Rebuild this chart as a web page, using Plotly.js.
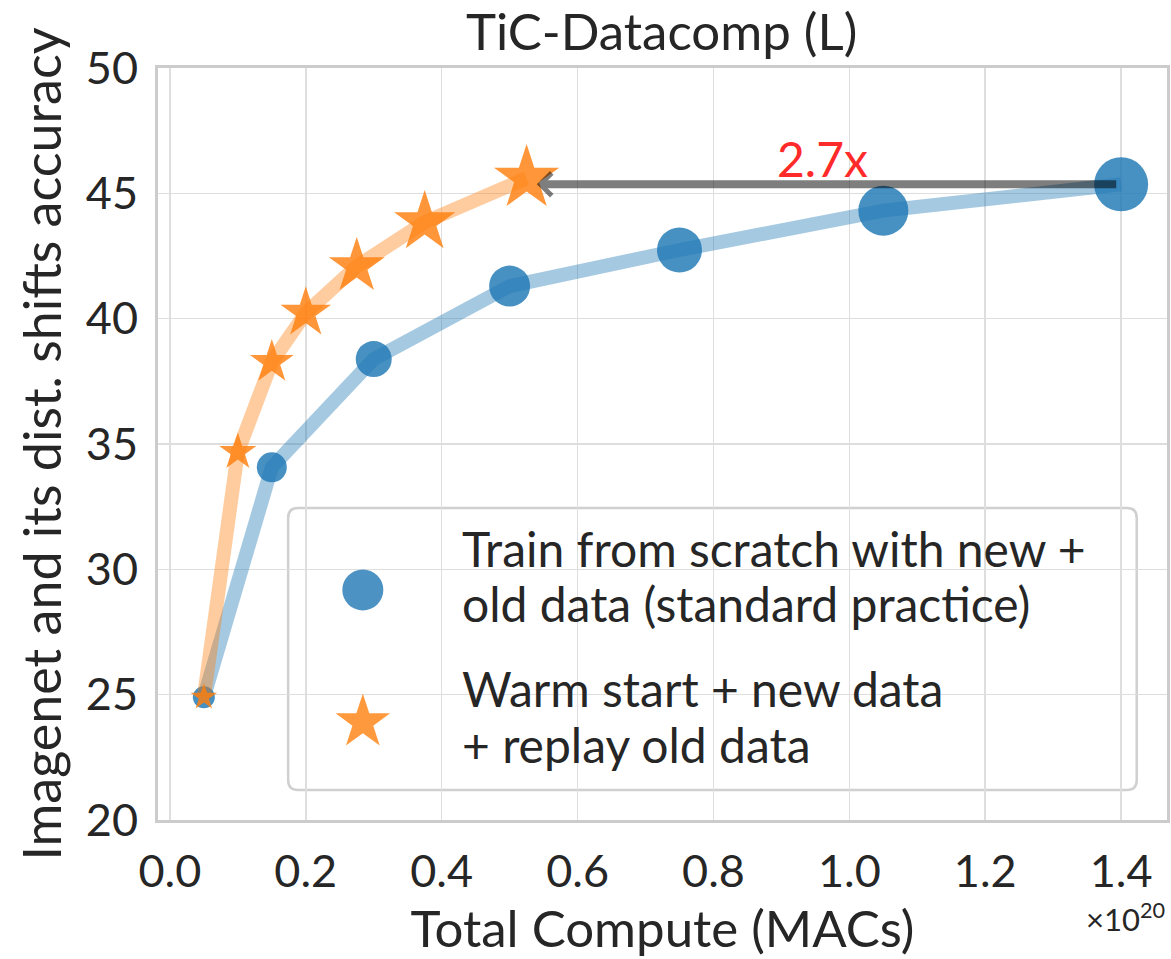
<!DOCTYPE html>
<html>
<head>
<meta charset="utf-8">
<script src="https://cdn.plot.ly/plotly-3.0.1.min.js"></script>
<style>html,body{margin:0;padding:0;background:#fff;}#chart{width:1171px;height:959px;}</style>
</head>
<body>
<div id="chart"></div>
<script>
// ---- data ----
const scratchCompute = [0.05, 0.15, 0.30, 0.50, 0.75, 1.05, 1.40];   // x1e20 MACs
const scratchAcc     = [24.9, 34.07, 38.39, 41.3, 42.74, 44.31, 45.36];
const warmCompute    = [0.05, 0.10, 0.15, 0.20, 0.275, 0.375, 0.525];
const warmAcc        = [24.9, 34.68, 38.27, 40.23, 42.09, 43.85, 45.6];
const seriesNames = [
  "Train from scratch with new +<br>old data (standard practice)",
  "Warm start + new data<br>+ replay old data"
];
const xTickVals = [0, 0.2, 0.4, 0.6, 0.8, 1.0, 1.2, 1.4];
const yTickVals = [20, 25, 30, 35, 40, 45, 50];

// ---- styles ----
const FONT = "Lato, 'DejaVu Sans', sans-serif";
const TXT = "#262626";
const BLUE = "rgb(31,119,180)", ORANGE = "rgb(255,127,14)";
const circleSizes = [22, 30, 36, 41, 45, 50, 54];
const starSizes = [20, 28, 33, 38, 42, 46, 49];

const lastX = scratchCompute[scratchCompute.length - 1];
const lastY = scratchAcc[scratchAcc.length - 1];
const warmLastX = warmCompute[warmCompute.length - 1];
const speedup = (lastX / warmLastX).toFixed(1) + "x";

const traces = [
  {x: scratchCompute, y: scratchAcc, mode: "lines", name: seriesNames[0],
   line: {color: "rgba(31,119,180,0.4)", width: 14}, showlegend: false, hoverinfo: "skip"},
  {x: scratchCompute, y: scratchAcc, mode: "markers", name: seriesNames[0],
   marker: {symbol: "circle", size: circleSizes, color: BLUE, opacity: 0.82, line: {width: 0}},
   showlegend: false, hoverinfo: "x+y"},
  {x: warmCompute, y: warmAcc, mode: "lines", name: seriesNames[1],
   line: {color: "rgba(255,127,14,0.4)", width: 14}, showlegend: false, hoverinfo: "skip"},
  {x: warmCompute, y: warmAcc, mode: "markers", name: seriesNames[1],
   marker: {symbol: "star", size: starSizes, color: ORANGE, opacity: 0.82, line: {width: 0}},
   showlegend: false, hoverinfo: "x+y"},
  // legend key markers on an overlay [0,1] axis pair
  {x: [0.203, 0.203], y: [0.306, 0.13], xaxis: "x2", yaxis: "y2", mode: "markers",
   marker: {symbol: ["circle", "star"], size: [41, 41], color: [BLUE, ORANGE], opacity: 0.8, line: {width: 0}},
   showlegend: false, hoverinfo: "skip"}
];

// rounded legend box in paper coords
const bx0 = 0.129, bx1 = 0.970, by0 = 0.040, by1 = 0.415;
const rx = 10 / 1009, ry = 10 / 752;
const boxPath = `M ${bx0+rx},${by0} L ${bx1-rx},${by0} Q ${bx1},${by0} ${bx1},${by0+ry} ` +
  `L ${bx1},${by1-ry} Q ${bx1},${by1} ${bx1-rx},${by1} L ${bx0+rx},${by1} Q ${bx0},${by1} ${bx0},${by1-ry} ` +
  `L ${bx0},${by0+ry} Q ${bx0},${by0} ${bx0+rx},${by0} Z`;

const legendLines = seriesNames.flatMap(s => s.split("<br>"));
const lineY = [0.361, 0.288, 0.175, 0.101];
const legendAnns = legendLines.map((t, i) => ({
  xref: "paper", yref: "paper", x: 0.299, y: lineY[i], xanchor: "left", yanchor: "middle",
  text: t, showarrow: false, font: {family: FONT, size: 48, color: TXT}
}));

const layout = {
  width: 1171, height: 959,
  margin: {l: 158, r: 4, t: 68, b: 139},
  paper_bgcolor: "#fff", plot_bgcolor: "#fff",
  font: {family: FONT, color: TXT},
  title: {text: "TiC-Datacomp (L)", font: {family: FONT, size: 51, color: TXT},
          x: 0.565, xanchor: "center", y: 0.966, yanchor: "middle"},
  xaxis: {range: [-0.0175, 1.4675], tickvals: xTickVals, tickformat: ".1f",
          showgrid: true, gridcolor: "#dedede", gridwidth: 1.5, zeroline: false,
          showline: true, linecolor: "#cccccc", linewidth: 3, mirror: true,
          ticks: "", ticklabelstandoff: 10,
          tickfont: {family: FONT, size: 45, color: TXT},
          title: {text: "Total Compute (MACs)", font: {family: FONT, size: 51, color: TXT}, standoff: 0}},
  yaxis: {range: [20, 50], tickvals: yTickVals,
          showgrid: true, gridcolor: "#dedede", gridwidth: 1.5, zeroline: false,
          showline: true, linecolor: "#cccccc", linewidth: 3, mirror: true,
          ticks: "", ticklabelstandoff: 8,
          tickfont: {family: FONT, size: 45, color: TXT},
          title: {text: "Imagenet and its dist. shifts accuracy", font: {family: FONT, size: 52, color: TXT}, standoff: 8}},
  xaxis2: {overlaying: "x", range: [0, 1], visible: false, fixedrange: true},
  yaxis2: {overlaying: "y", range: [0, 1], visible: false, fixedrange: true},
  shapes: [
    {type: "path", xref: "paper", yref: "paper", path: boxPath, layer: "below",
     fillcolor: "rgba(255,255,255,0.85)", line: {color: "#d0d0d0", width: 2.5}}
  ],
  annotations: [
    {x: warmLastX + 0.015, y: lastY, ax: lastX - 0.005, ay: lastY, xref: "x", yref: "y", axref: "x", ayref: "y",
     text: "", showarrow: true, arrowhead: 4, arrowsize: 0.55, arrowwidth: 8, arrowcolor: "rgba(0,0,0,0.5)"},
    {x: 0.96, y: 46.4, xref: "x", yref: "y", text: speedup, showarrow: false,
     font: {family: FONT, size: 48, color: "#ff2a2a"}},
    {xref: "paper", yref: "paper", x: 1.0, y: -0.129, xanchor: "right", yanchor: "middle",
     text: "×10<sup>20</sup>", showarrow: false, font: {family: FONT, size: 31, color: TXT}},
    ...legendAnns
  ]
};

Plotly.newPlot("chart", traces, layout, {displayModeBar: false, staticPlot: true});
</script>
</body>
</html>
